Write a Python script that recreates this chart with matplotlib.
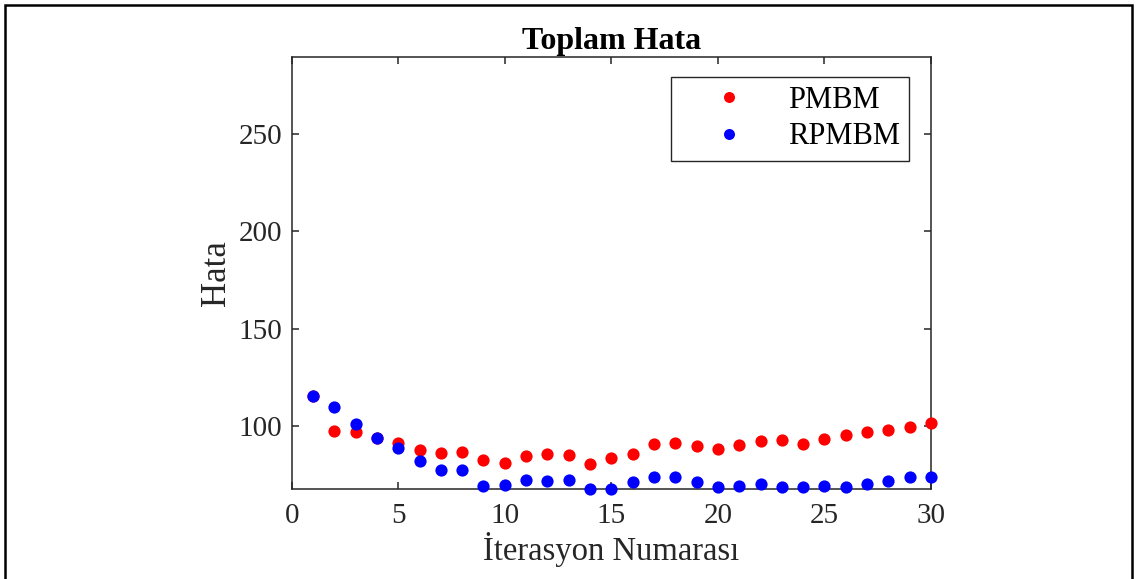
import matplotlib
matplotlib.use("Agg")
import matplotlib.pyplot as plt
from matplotlib.patches import Rectangle

# total error per iteration for the two filters
iterations = list(range(1, 31))
pmbm = [115.6, 97.8, 96.9, 93.9, 91.5, 88.1, 86.2, 87.1, 82.7, 81.5,
        84.9, 85.9, 85.2, 80.5, 83.6, 85.9, 91.0, 91.7, 90.2, 88.6,
        90.3, 92.3, 93.0, 91.2, 93.4, 95.4, 97.3, 98.3, 99.5, 102.0]
rpmbm = [115.7, 109.7, 101.4, 93.9, 88.8, 82.3, 77.6, 77.6, 69.6, 70.1,
         72.7, 72.3, 72.5, 67.7, 67.7, 71.4, 74.2, 74.3, 71.3, 68.9,
         69.4, 70.3, 68.9, 68.9, 69.7, 68.9, 70.6, 72.1, 74.3, 74.2]
xticks = [0, 5, 10, 15, 20, 25, 30]
yticks = [100, 150, 200, 250]

plt.rcParams["font.family"] = ["Liberation Serif", "DejaVu Serif"]
AX = "#262626"

fig = plt.figure(figsize=(11.39, 5.79), dpi=100)
ax = fig.add_axes([0.2561, 0.1546, 0.5613, 0.747])

ax.plot(iterations, pmbm, "o", color="#ff0000", ms=8.8, mew=0,
        label="PMBM", clip_on=False, zorder=3)
ax.plot(iterations, rpmbm, "o", color="#0000ff", ms=8.8, mew=0,
        label="RPMBM", clip_on=False, zorder=3)

ax.set_xlim(0, 30)
ax.set_ylim(min(rpmbm), 2.5 * max(rpmbm))
ax.set_xticks(xticks)
ax.set_yticks(yticks)
ax.tick_params(direction="in", length=5, width=1.1, color=AX, labelsize=21,
               top=True, right=True, labelcolor=AX)
ax.tick_params(axis="x", pad=10)
ax.tick_params(axis="y", pad=7)
for s in ax.spines.values():
    s.set_color(AX)
    s.set_linewidth(1.1)

ax.set_title("Toplam Hata", fontsize=23, fontweight="bold", pad=6)
ax.set_xlabel("İterasyon Numarası", fontsize=23.5, color=AX, labelpad=2)
ax.set_ylabel("Hata", fontsize=25, color=AX, labelpad=4)

leg = ax.legend(loc="upper right", bbox_to_anchor=(0.9656, 0.9545), fontsize=22,
                frameon=True, fancybox=False, framealpha=1, edgecolor=AX,
                handlelength=3.2, handletextpad=0.33, labelspacing=0.25,
                borderpad=0.3, borderaxespad=0, markerscale=0.9)
leg.get_frame().set_linewidth(1.0)

# outer frame around the figure
fig.patches.append(Rectangle((5 / 1139, -0.05), 1127 / 1139, 1.05 - 5 / 579,
                             transform=fig.transFigure, fill=False,
                             edgecolor="black", lw=1.8))

fig.savefig("out.png", dpi=100)
